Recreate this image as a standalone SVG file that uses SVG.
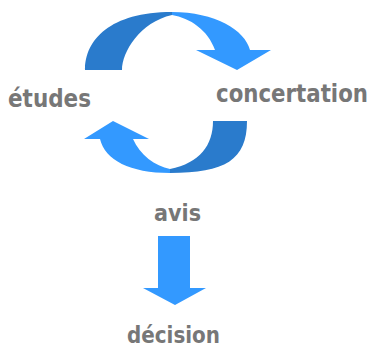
<svg xmlns="http://www.w3.org/2000/svg" width="372" height="349" viewBox="0 0 372 349">
<style>
.lbl{font-family:"DejaVu Sans Condensed","DejaVu Sans",sans-serif;font-weight:bold;fill:#777777}
.dark{fill:#2a7bcc}
.light{fill:#3399ff}
</style>
<rect width="372" height="349" fill="#ffffff"/>
<g id="connectors">
<g id="cycle-top">
<path class="dark" d="M85,70 C85,40 110,12 172,12 L172,15 C140,22 122,52 122,70 Z"/>
<path class="light" d="M172,12 C215,12 245,30 250,50 L271,50 L237,70 L196,50 L215,50 C208,30 190,18 172,15 Z"/>
</g>
<g id="cycle-bottom">
<path class="dark" d="M247,121 C247,160 225,173 170,173 L170,169 C200,163 213,145 213,121 Z"/>
<path class="light" d="M170,173 C130,173 105,160 100,139 L84,139 L113,121 L149,139 L133,139 C140,155 155,166 170,169 Z"/>
</g>
<path id="arrow-down" class="light" d="M158,236 L190,236 L190,288 L206,288 L175,305 L143,288 L158,288 Z"/>
</g>
<g id="etudes"><text class="lbl" x="8" y="107" font-size="25" textLength="83" lengthAdjust="spacingAndGlyphs">études</text></g>
<g id="concertation"><text class="lbl" x="216" y="102" font-size="24" textLength="152" lengthAdjust="spacingAndGlyphs">concertation</text></g>
<g id="avis"><text class="lbl" x="154" y="221" font-size="23" textLength="47" lengthAdjust="spacingAndGlyphs">avis</text></g>
<g id="decision"><text class="lbl" x="127" y="343" font-size="23.5" textLength="93" lengthAdjust="spacingAndGlyphs">décision</text></g>
</svg>
